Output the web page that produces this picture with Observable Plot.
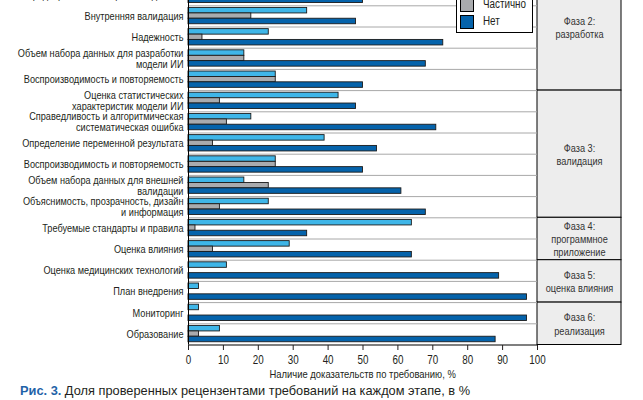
<!DOCTYPE html>
<html>
<head>
<meta charset="utf-8">
<script src="https://cdn.jsdelivr.net/npm/d3@7"></script>
<script src="https://cdn.jsdelivr.net/npm/@observablehq/plot@0.6"></script>
<style>
  html, body { margin: 0; padding: 0; background: #fff; }
  #wrap { position: relative; width: 643px; height: 400px; overflow: hidden; background: #fff;
          font-family: "Liberation Sans", Arial, sans-serif; color: #231f20; }
  #chart { position: absolute; left: 0; top: -40px; }
  #legend { position: absolute; left: 456px; top: -22px; width: 75px; height: 53px; border: 1px solid #000; background: #fff; }
  .li { position: absolute; left: 3px; height: 13px; font-size: 12px; line-height: 13px; }
  .sw { position: absolute; left: 0; top: 0; width: 12px; height: 12px; border: 1px solid #000; }
  .lt { position: absolute; left: 23px; top: 0; white-space: nowrap; transform: scaleX(0.82); transform-origin: left center; }
  #xlabel { position: absolute; left: 188px; width: 349px; top: 368px; text-align: center; font-size: 11.5px; }
  #xlabel span { display: inline-block; transform: scaleX(0.82); transform-origin: center; white-space: nowrap; }
  #caption { position: absolute; left: 20px; top: 383px; font-family: "Liberation Sans", Arial, sans-serif; font-size: 12.8px; white-space: nowrap; color: #231f20; }
  #caption b { color: #1f63a8; }
</style>
</head>
<body>
<div id="wrap">
  <div id="chart"></div>
  <div id="legend"></div>
  <div id="xlabel"><span>Наличие доказательств по требованию, %</span></div>
  <div id="caption"><b>Рис. 3.</b> Доля проверенных рецензентами требований на каждом этапе, в %</div>
</div>
<script>
const labels = [
  "Предварительная обработка данных",
  "Внутренняя валидация",
  "Надежность",
  "Объем набора данных для разработки\nмодели ИИ",
  "Воспроизводимость и повторяемость",
  "Оценка статистических\nхарактеристик модели ИИ",
  "Справедливость и алгоритмическая\nсистематическая ошибка",
  "Определение переменной результата",
  "Воспроизводимость и повторяемость",
  "Объем набора данных для внешней\nвалидации",
  "Объяснимость, прозрачность, дизайн\nи информация",
  "Требуемые стандарты и правила",
  "Оценка влияния",
  "Оценка медицинских технологий",
  "План внедрения",
  "Мониторинг",
  "Образование"
];
const yes     = [30, 34, 23, 16, 25, 43, 18, 39, 25, 16, 23, 64, 29, 11, 3, 3, 9];
const partial = [20, 18,  4, 16, 25,  9, 11,  7, 25, 23,  9,  2,  7,  0, 0, 0, 3];
const no      = [50, 48, 73, 68, 50, 48, 71, 54, 50, 61, 68, 34, 64, 89, 97, 97, 88];

const seriesNames = ["Да", "Частично", "Нет"];
const seriesColors = ["#3fb6e8", "#a9abae", "#0563ab"];
const xTicks = [0, 10, 20, 30, 40, 50, 60, 70, 80, 90, 100];

const phaseLabels = ["Фаза 2:\nразработка", "Фаза 3:\nвалидация", "Фаза 4:\nпрограммное\nприложение", "Фаза 5:\nоценка влияния", "Фаза 6:\nреализация"];
const phaseFirst = [-1, 5, 11, 13, 15];
const phaseLast  = [4, 10, 12, 14, 16];

const phases = phaseLabels.map((label, k) => ({label, from: phaseFirst[k], to: phaseLast[k] + 1}));
const seriesValues = [yes, partial, no];
const slot = [[0.10, 0.36], [0.36, 0.61], [0.61, 0.87]];
const bars = [];
labels.forEach((lab, i) => {
  seriesNames.forEach((s, k) => {
    const v = seriesValues[k][i];
    if (v > 0) bars.push({i, s, k, v});
  });
});

const font = '"Liberation Sans", Arial, sans-serif';
const narrow = 0.82;

const chart = Plot.plot({
  width: 643,
  height: 440,
  marginLeft: 188,
  marginRight: 106,
  marginTop: 24,
  marginBottom: 55,
  style: {fontFamily: font, fontSize: "11px", color: "#231f20", background: "transparent"},
  x: {domain: [0, 100]},
  y: {domain: [0, 17], range: [24.1, 384.5], axis: null},
  color: {domain: seriesNames, range: seriesColors},
  marks: [
    Plot.rect(phases, {x1: 100, x2: 100, insetRight: -84, y1: "from", y2: "to", fill: "#ededed", stroke: "#000", strokeWidth: 1}),
    Plot.ruleY(d3.range(0, 17), {x1: 0, x2: 100, stroke: "#a8a8a8", strokeWidth: 1}),
    Plot.rect(bars, {
      x1: 0, x2: "v",
      y1: d => d.i + slot[d.k][0],
      y2: d => d.i + slot[d.k][1],
      fill: "s", stroke: "#1b1b1b", strokeWidth: 0.9
    }),
    Plot.ruleX([0], {y1: -1, y2: 17, stroke: "#000", strokeWidth: 1}),
    Plot.ruleY([17], {x1: 0, x2: 100, stroke: "#000", strokeWidth: 1.2}),
    Plot.axisX({anchor: "bottom", ticks: xTicks, tickSize: 5, tickPadding: 5, label: null, fontSize: 12, tickFormat: d => d}),
    Plot.text(labels, {x: 0, y: (d, i) => i + 0.5, text: d => d, textAnchor: "end", dx: -5, lineHeight: 0.95, fontSize: 11.2, fill: "#231f20"}),
    Plot.text(phases, {x: 100, dx: 42, y: d => (d.from + d.to) / 2, text: "label", lineHeight: 1.18, fontSize: 11.2, fill: "#333"})
  ]
});
// condensed look: narrow every text horizontally about its anchor
chart.querySelectorAll("text").forEach(t => {
  const tr = t.getAttribute("transform");
  if (tr) {
    t.setAttribute("transform", tr + ` scale(${narrow},1)`);
  } else {
    const x = +(t.getAttribute("x") || 0);
    t.setAttribute("transform", `translate(${x},0) scale(${narrow},1) translate(${-x},0)`);
  }
});
document.getElementById("chart").appendChild(chart);

const legend = document.getElementById("legend");
seriesNames.forEach((s, k) => {
  const it = document.createElement("div");
  it.className = "li";
  it.style.top = (2 + k * 17) + "px";
  it.innerHTML = `<div class="sw" style="background:${seriesColors[k]}"></div><div class="lt">${s}</div>`;
  legend.appendChild(it);
});
</script>
</body>
</html>
